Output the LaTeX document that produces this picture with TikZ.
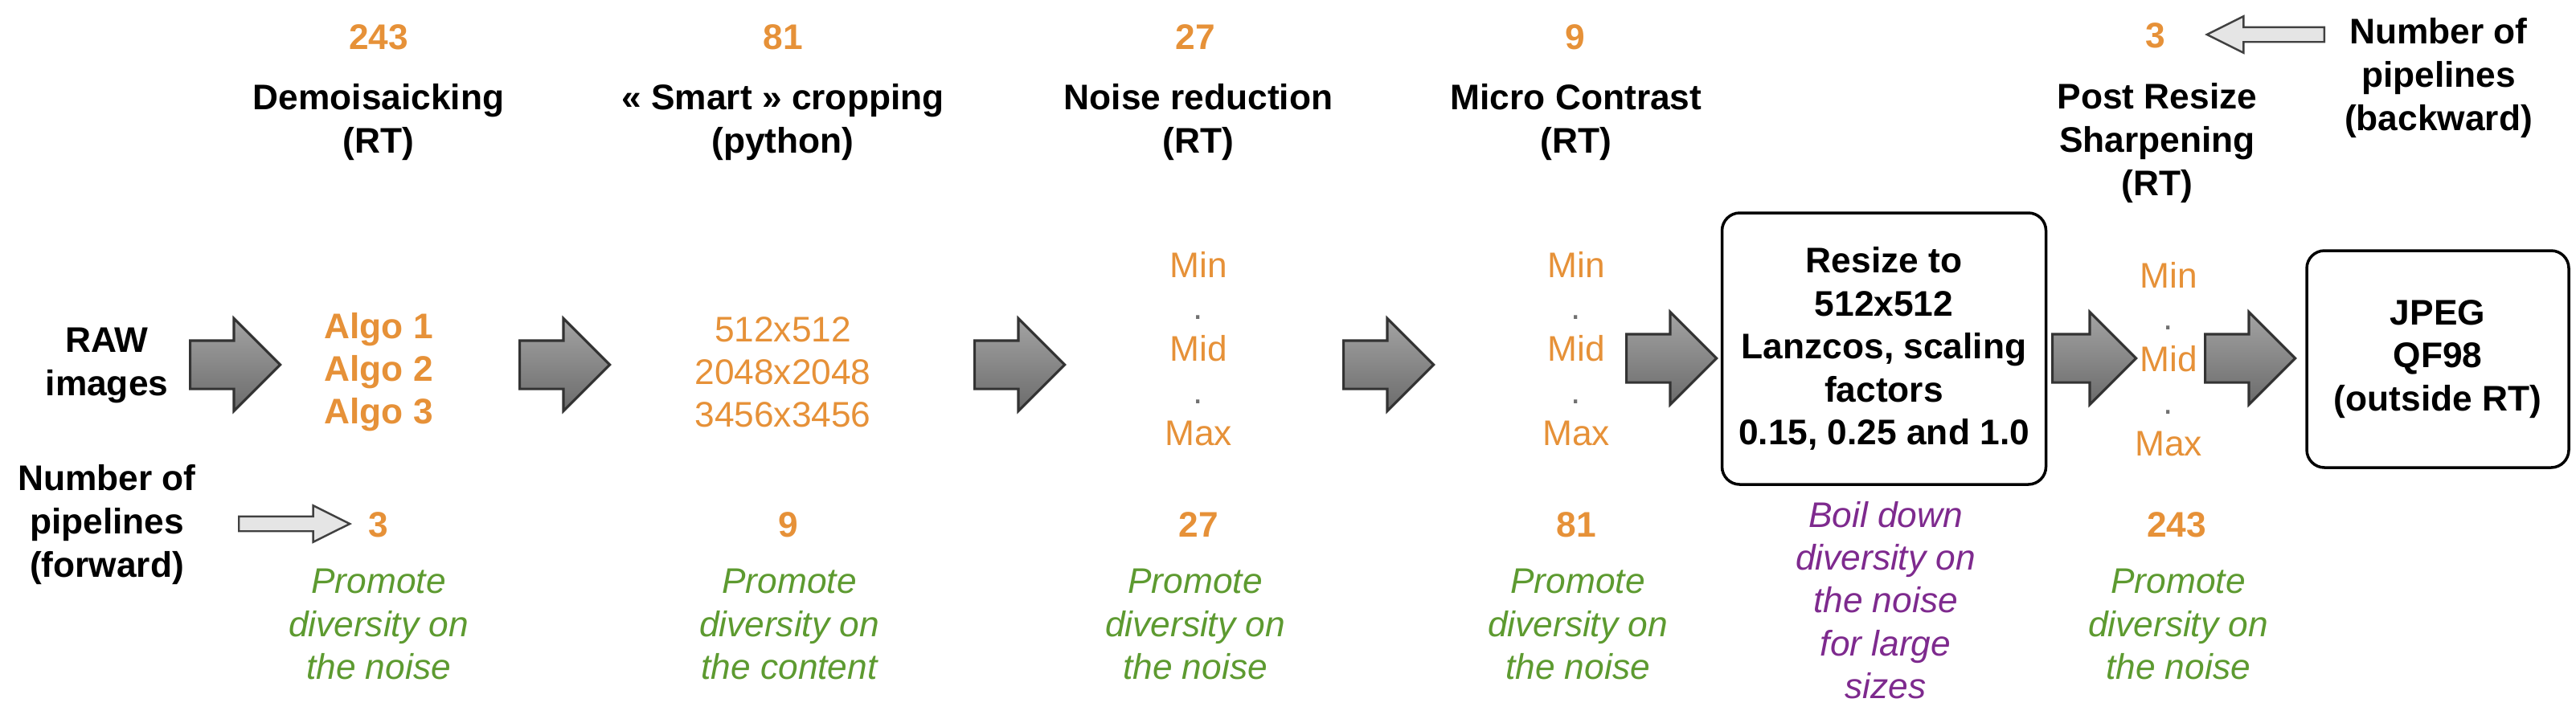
\documentclass[tikz,border=0pt]{standalone}
\usepackage{fontspec}
\setmainfont{Liberation Sans}
\usepackage{xcolor}
\usetikzlibrary{shapes.arrows}
\definecolor{stageorange}{HTML}{E69138}
\definecolor{notegreen}{HTML}{5D9A30}
\definecolor{notepurple}{HTML}{7E2A8E}
\definecolor{dotgray}{HTML}{707070}
\newcommand{\leveldot}{{\color{dotgray}.}}

\begin{document}
\begin{tikzpicture}[
  every node/.style={align=center, inner sep=0pt},
  title/.style={font=\fontsize{12.6}{15.4}\selectfont\bfseries},
  count/.style={font=\fontsize{12.6}{15.4}\selectfont\bfseries, text=stageorange},
  choice/.style={font=\fontsize{12.6}{15.1}\selectfont, text=stageorange},
  level/.style={font=\fontsize{12.6}{14.9}\selectfont, text=stageorange},
  note/.style={font=\fontsize{12.6}{15.2}\selectfont\itshape, text=#1},
  stepbox/.style={draw, rounded corners=0.22cm, line width=1pt, font=\fontsize{12.6}{15.2}\selectfont\bfseries},
  bigarrow/.style={single arrow, anchor=tail, draw=black!80, line width=0.9pt, top color=black!36, bottom color=black!58, minimum height=#1, inner sep=0pt, inner ysep=0.285cm, single arrow head extend=0.275cm, single arrow tip angle=90},
  bigarrow/.default=1.12cm,
  thinarrow/.style={single arrow, anchor=tail, draw=black!75, line width=0.7pt, fill=black!10, minimum height=#1, inner sep=0pt, inner ysep=0.08cm, single arrow head extend=0.135cm, single arrow tip angle=53}
]
\useasboundingbox (0,0) rectangle (32.05,-8.94);

% Pipeline counts (backward)
\node[count] (bwd1) at (4.71,-0.46) {243};
\node[count] (bwd2) at (9.74,-0.46) {81};
\node[count] (bwd3) at (14.87,-0.46) {27};
\node[count] (bwd4) at (19.60,-0.46) {9};
\node[count] (bwd5) at (26.82,-0.44) {3};
\node[title] (bwdlabel) at (30.34,-0.97) {Number of\\pipelines\\(backward)};
\node[thinarrow=1.46cm, shape border rotate=180] (bwdarrow) at (28.93,-0.43) {};

% Stage titles
\node[title] (demo) at (4.71,-1.52) {Demoisaicking\\(RT)};
\node[title] (crop) at (9.74,-1.52) {« Smart » cropping\\(python)};
\node[title] (noise) at (14.91,-1.52) {Noise reduction\\(RT)};
\node[title] (micro) at (19.61,-1.52) {Micro Contrast\\(RT)};
\node[title] (sharp) at (26.84,-1.78) {Post Resize\\Sharpening\\(RT)};

% Stage choices
\node[title] (raw) at (1.33,-4.55) {RAW\\images};
\node[choice, font=\fontsize{12.6}{15.1}\selectfont\bfseries] (algos) at (4.71,-4.63) {Algo 1\\Algo 2\\Algo 3};
\node[choice] (sizes) at (9.74,-4.63) {512x512\\2048x2048\\3456x3456};
\node[level] (noiselvl) at (14.91,-4.34) {Min\\\leveldot\\Mid\\\leveldot\\Max};
\node[level] (microlvl) at (19.61,-4.34) {Min\\\leveldot\\Mid\\\leveldot\\Max};
\node[stepbox, minimum width=4.03cm, minimum height=3.38cm] (resize) at (23.44,-4.34) {Resize to\\512x512\\Lanzcos, scaling\\factors\\0.15, 0.25 and 1.0};
\node[level] (sharplvl) at (26.98,-4.47) {Min\\\leveldot\\Mid\\\leveldot\\Max};
\node[stepbox, minimum width=3.26cm, minimum height=2.70cm] (jpeg) at (30.33,-4.47) {JPEG\\QF98\\(outside RT)};

% Block arrows (placed by their tails)
\node[bigarrow] (ar1) at (2.35,-4.54) {};
\node[bigarrow] (ar2) at (6.45,-4.54) {};
\node[bigarrow] (ar3) at (12.11,-4.54) {};
\node[bigarrow] (ar4) at (16.70,-4.54) {};
\node[bigarrow] (ar5) at (20.22,-4.46) {};
\node[bigarrow=1.04cm] (ar6) at (25.52,-4.46) {};
\node[bigarrow] (ar7) at (27.42,-4.46) {};

% Pipeline counts (forward)
\node[title] (fwdlabel) at (1.33,-6.53) {Number of\\pipelines\\(forward)};
\node[thinarrow=1.38cm] (fwdarrow) at (2.96,-6.52) {};
\node[count] (fwd1) at (4.71,-6.53) {3};
\node[count] (fwd2) at (9.81,-6.53) {9};
\node[count] (fwd3) at (14.91,-6.53) {27};
\node[count] (fwd4) at (19.61,-6.53) {81};
\node[count] (fwd5) at (27.08,-6.53) {243};

% Notes
\node[note=notegreen] (note1) at (4.71,-7.77) {Promote\\diversity on\\the noise};
\node[note=notegreen] (note2) at (9.82,-7.77) {Promote\\diversity on\\the content};
\node[note=notegreen] (note3) at (14.87,-7.77) {Promote\\diversity on\\the noise};
\node[note=notegreen] (note4) at (19.63,-7.77) {Promote\\diversity on\\the noise};
\node[note=notepurple] (note5) at (23.46,-7.47) {Boil down\\diversity on\\the noise\\for large\\sizes};
\node[note=notegreen] (note6) at (27.10,-7.77) {Promote\\diversity on\\the noise};

\end{tikzpicture}
\end{document}
